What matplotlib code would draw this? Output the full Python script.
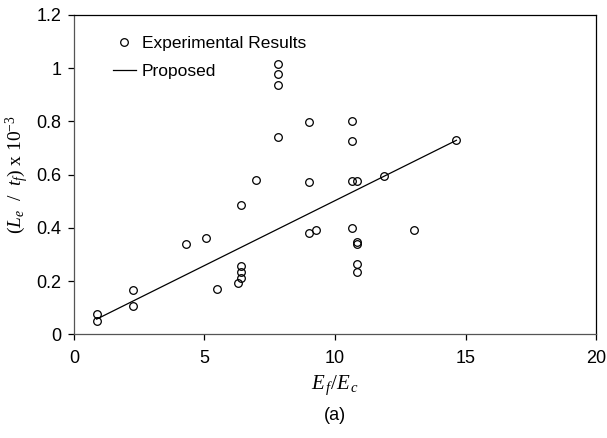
import matplotlib
matplotlib.use("Agg")
import matplotlib.pyplot as plt

plt.rcParams['font.family'] = ['Liberation Sans', 'DejaVu Sans']
plt.rcParams['mathtext.fontset'] = 'custom'
plt.rcParams['mathtext.it'] = 'Liberation Serif:italic'
plt.rcParams['mathtext.rm'] = 'Liberation Serif'

# experimental results (Ef/Ec, Le/tf x 10^-3)
expX = [0.87, 0.87, 2.25, 2.25, 4.29, 5.07, 5.48, 6.27, 6.39, 6.39, 6.39, 6.39,
        6.99, 7.83, 7.83, 7.83, 7.83, 8.99, 8.99, 8.99, 9.26, 10.66, 10.66, 10.66,
        10.83, 10.66, 10.83, 10.83, 10.83, 10.83, 11.86, 13.04, 14.65]
expY = [0.075, 0.050, 0.165, 0.105, 0.341, 0.363, 0.170, 0.192, 0.213, 0.233, 0.258, 0.485,
        0.581, 1.016, 0.977, 0.937, 0.742, 0.799, 0.572, 0.380, 0.392, 0.803, 0.725, 0.577,
        0.577, 0.401, 0.346, 0.338, 0.263, 0.233, 0.594, 0.393, 0.729]

# proposed model
propX = [0.87, 14.65]
propY = [0.057, 0.729]

fig = plt.figure(figsize=(6.07, 4.38), dpi=100)
ax = fig.add_axes([0.1219, 0.2368, 0.860, 0.729])

ax.plot(expX, expY, linestyle='none', marker='o', markersize=5.5,
        markerfacecolor='none', markeredgecolor='black', markeredgewidth=0.9,
        label='Experimental Results')
ax.plot(propX, propY, color='black', linewidth=0.9, label='Proposed')

ax.set_xlim(0, 20)
ax.set_ylim(0, 1.2)
ax.set_xticks([0, 5, 10, 15, 20])
ax.set_yticks([0, 0.2, 0.4, 0.6, 0.8, 1.0, 1.2])
ax.set_yticklabels(['0', '0.2', '0.4', '0.6', '0.8', '1', '1.2'])
ax.tick_params(direction='out', length=4, width=0.9, labelsize=13, colors='black')
ax.tick_params(axis='x', pad=7)
ax.tick_params(axis='y', pad=5)
for s in ax.spines.values():
    s.set_linewidth(0.9)
ax.spines['left'].set_color('#555555')
ax.spines['bottom'].set_color('#555555')

ax.set_xlabel(r'$E_{\,f}/E_{\,c}$', fontsize=15, labelpad=5)
ax.set_ylabel(r'$(L_e\ \ /\ \ t_f)\ \mathrm{x\ 10^{-3}}$', fontsize=14, labelpad=4)

ax.legend(loc='upper left', bbox_to_anchor=(0.055, 0.966), frameon=False,
          fontsize=12.5, handlelength=1.3, handletextpad=0.35, labelspacing=0.72,
          borderaxespad=0.2)

fig.text(0.5 * (0.1219 + 0.982), 1 - 415 / 438, '(a)', fontsize=13,
         ha='center', va='center')

fig.savefig('out.png', dpi=100)
